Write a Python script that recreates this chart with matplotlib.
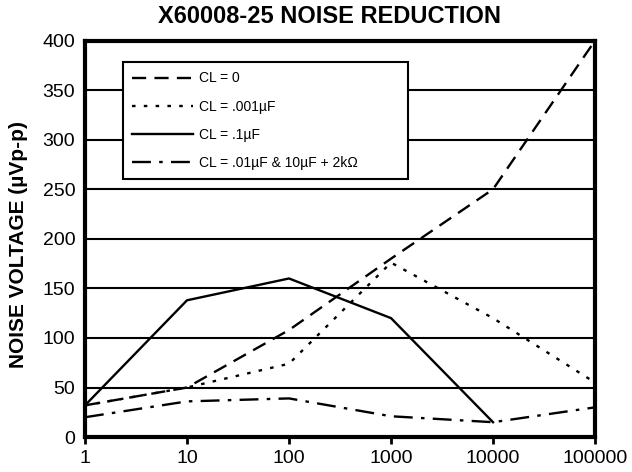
import numpy as np
from matplotlib import pyplot as plt

plt.rcParams['font.family'] = ['Liberation Sans', 'DejaVu Sans']

freq = [1, 10, 100, 1000, 10000, 100000]
cl_0 = [32, 50, 108, 180, 250, 400]
cl_001uf = [32, 50, 74, 176, 120, 55]
cl_1uf_x = [1, 10, 100, 1000, 10000]
cl_1uf = [32, 138, 160, 120, 15]
cl_mixed = [20, 36, 39, 21, 15, 30]

labels = ['CL = 0', 'CL = .001µF', 'CL = .1µF', 'CL = .01µF & 10µF + 2kΩ']

fig = plt.figure(figsize = (6.32, 4.72), dpi = 100)
ax = fig.add_axes([0.1345, 0.074, 0.807, 0.84])

lw = 1.7
ax.plot(freq, cl_0, color = 'black', lw = lw, ls = (0, (6, 3.5)), label = labels[0])
ax.plot(freq, cl_001uf, color = 'black', lw = lw, ls = (0, (1.5, 3.5)), label = labels[1])
ax.plot(cl_1uf_x, cl_1uf, color = 'black', lw = lw, ls = '-', label = labels[2])
ax.plot(freq, cl_mixed, color = 'black', lw = lw, ls = (0, (8, 3.5, 1.5, 3.5)), label = labels[3])

ax.set_xscale('log')
ax.set_xlim(1, 100000)
ax.set_ylim(0, 400)
ax.set_xticks(freq)
ax.set_xticklabels(['1', '10', '100', '1000', '10000', '100000'])
ax.minorticks_off()
ax.set_yticks(np.arange(0, 401, 50))

ax.yaxis.grid(True, color = 'black', lw = 1.5)
ax.set_axisbelow(True)
for s in ax.spines.values():
  s.set_linewidth(3)

ax.tick_params(axis = 'x', direction = 'out', length = 5, width = 2, labelsize = 14, pad = 4)
ax.tick_params(axis = 'y', length = 0, labelsize = 14, pad = 7)

ax.set_ylabel('NOISE VOLTAGE (µVp-p)', fontsize = 15, fontweight = 'bold')
ax.yaxis.set_label_coords(-0.112, 0.485)
fig.suptitle('X60008-25 NOISE REDUCTION', x = 0.522, y = 0.99, fontsize = 17, fontweight = 'bold')

leg = ax.legend(loc = 'upper left', bbox_to_anchor = (0.0745, 0.655, 0.559, 0.29), mode = 'expand',
                fontsize = 10, handlelength = 4.4, handletextpad = 0.45, labelspacing = 1.02,
                frameon = True, fancybox = False, borderaxespad = 0, borderpad = 0.65)
leg.get_frame().set_edgecolor('black')
leg.get_frame().set_linewidth(1.5)
leg.get_frame().set_alpha(1)

plt.savefig('out.png', dpi = 100)
